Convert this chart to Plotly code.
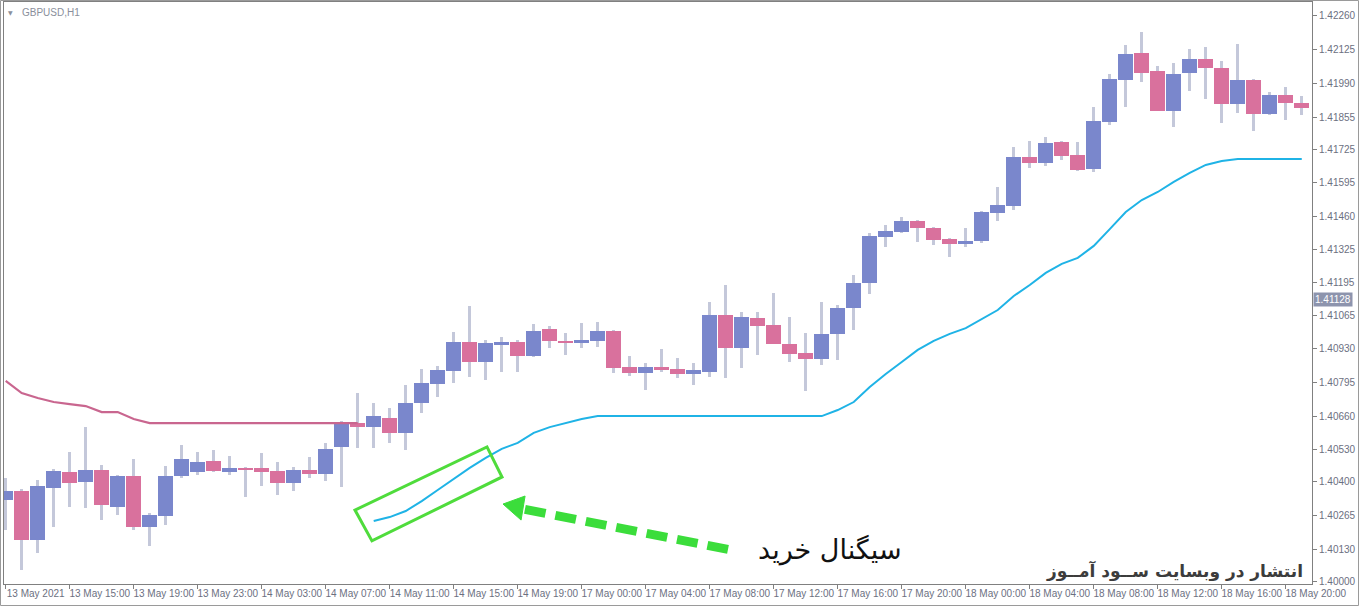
import plotly.graph_objects as go

# ---- data (GBPUSD H1) ----
time_labels = ["13 May 2021", "13 May 15:00", "13 May 19:00", "13 May 23:00", "14 May 03:00",
               "14 May 07:00", "14 May 11:00", "14 May 15:00", "14 May 19:00", "17 May 00:00",
               "17 May 04:00", "17 May 08:00", "17 May 12:00", "17 May 16:00", "17 May 20:00",
               "18 May 00:00", "18 May 04:00", "18 May 08:00", "18 May 12:00", "18 May 16:00",
               "18 May 20:00"]

open_ = [1.40327, 1.40363, 1.40168, 1.40375, 1.40439, 1.40399, 1.40447, 1.40299, 1.40423, 1.40219,
         1.40263, 1.40423, 1.40439, 1.40483, 1.40439, 1.40455, 1.40455, 1.40443, 1.40395, 1.40447,
         1.40431, 1.40539, 1.40634, 1.40618, 1.40654, 1.40595, 1.40714, 1.40790, 1.40842, 1.40958,
         1.40878, 1.40946, 1.40958, 1.40902, 1.41009, 1.40962, 1.40954, 1.40962, 1.41001, 1.40858,
         1.40834, 1.40858, 1.40850, 1.40830, 1.40838, 1.41065, 1.40934, 1.41053, 1.41025, 1.40950,
         1.40914, 1.40890, 1.40990, 1.41093, 1.41193, 1.41377, 1.41396, 1.41440, 1.41412, 1.41369,
         1.41349, 1.41361, 1.41472, 1.41500, 1.41696, 1.41672, 1.41756, 1.41704, 1.41648, 1.41835,
         1.42003, 1.42111, 1.42039, 1.41879, 1.42031, 1.42087, 1.42051, 1.41907, 1.42003, 1.41867,
         1.41943, 1.41911]

high = [1.40415, 1.40371, 1.40407, 1.40451, 1.40519, 1.40618, 1.40467, 1.40427, 1.40491, 1.40275,
        1.40463, 1.40547, 1.40519, 1.40527, 1.40503, 1.40459, 1.40515, 1.40479, 1.40459, 1.40499,
        1.40555, 1.40642, 1.40754, 1.40714, 1.40694, 1.40786, 1.40850, 1.40862, 1.40998, 1.41101,
        1.40966, 1.40978, 1.40966, 1.41029, 1.41021, 1.40994, 1.41033, 1.41037, 1.41005, 1.40902,
        1.40874, 1.40930, 1.40894, 1.40874, 1.41117, 1.41185, 1.41077, 1.41077, 1.41153, 1.41057,
        1.40994, 1.41117, 1.41105, 1.41225, 1.41393, 1.41424, 1.41456, 1.41444, 1.41416, 1.41373,
        1.41412, 1.41480, 1.41576, 1.41736, 1.41760, 1.41776, 1.41760, 1.41756, 1.41895, 1.42027,
        1.42143, 1.42194, 1.42059, 1.42071, 1.42127, 1.42135, 1.42079, 1.42147, 1.42007, 1.41955,
        1.41975, 1.41939]

low = [1.40207, 1.40048, 1.40116, 1.40219, 1.40299, 1.40295, 1.40247, 1.40267, 1.40207, 1.40144,
       1.40227, 1.40415, 1.40427, 1.40439, 1.40427, 1.40339, 1.40383, 1.40347, 1.40363, 1.40415,
       1.40403, 1.40379, 1.40535, 1.40535, 1.40555, 1.40527, 1.40674, 1.40738, 1.40794, 1.40818,
       1.40806, 1.40838, 1.40838, 1.40898, 1.40934, 1.40906, 1.40934, 1.40938, 1.40834, 1.40822,
       1.40766, 1.40838, 1.40814, 1.40786, 1.40818, 1.40814, 1.40854, 1.40906, 1.40950, 1.40878,
       1.40762, 1.40866, 1.40886, 1.41005, 1.41149, 1.41337, 1.41393, 1.41357, 1.41345, 1.41297,
       1.41337, 1.41353, 1.41440, 1.41484, 1.41652, 1.41660, 1.41684, 1.41640, 1.41636, 1.41823,
       1.41895, 1.41995, 1.41879, 1.41815, 1.41959, 1.41927, 1.41831, 1.41871, 1.41799, 1.41863,
       1.41843, 1.41863]

close = [1.40363, 1.40168, 1.40383, 1.40443, 1.40395, 1.40447, 1.40307, 1.40423, 1.40219, 1.40267,
         1.40423, 1.40491, 1.40479, 1.40443, 1.40455, 1.40447, 1.40439, 1.40395, 1.40447, 1.40431,
         1.40531, 1.40630, 1.40618, 1.40662, 1.40595, 1.40714, 1.40794, 1.40846, 1.40958, 1.40878,
         1.40954, 1.40958, 1.40902, 1.41001, 1.40962, 1.40954, 1.40966, 1.41001, 1.40854, 1.40834,
         1.40858, 1.40846, 1.40830, 1.40846, 1.41065, 1.40934, 1.41057, 1.41021, 1.40950, 1.40910,
         1.40890, 1.40990, 1.41093, 1.41193, 1.41381, 1.41400, 1.41440, 1.41412, 1.41365, 1.41349,
         1.41361, 1.41476, 1.41504, 1.41696, 1.41672, 1.41752, 1.41700, 1.41644, 1.41839, 1.42007,
         1.42107, 1.42031, 1.41879, 1.42027, 1.42087, 1.42051, 1.41907, 1.42003, 1.41867, 1.41943,
         1.41911, 1.41891]

# trailing indicator lines (sell line bars 0-22, buy line bars 23-81)
sell_start = 0
sell_line = [1.40802, 1.40754, 1.40734, 1.40718, 1.40710, 1.40702, 1.40678, 1.40678, 1.40650, 1.40634,
             1.40634, 1.40634, 1.40634, 1.40634, 1.40634, 1.40634, 1.40634, 1.40634, 1.40634, 1.40634,
             1.40634, 1.40634, 1.40634]
buy_start = 23
buy_line = [1.40243, 1.40259, 1.40283, 1.40323, 1.40367, 1.40411, 1.40455, 1.40495, 1.40531, 1.40555,
            1.40595, 1.40618, 1.40634, 1.40650, 1.40662,
            1.40662, 1.40662, 1.40662, 1.40662, 1.40662, 1.40662, 1.40662, 1.40662, 1.40662, 1.40662,
            1.40662, 1.40662, 1.40662, 1.40662,
            1.40686, 1.40718, 1.40778, 1.40830, 1.40878, 1.40926, 1.40962, 1.40990, 1.41013, 1.41049,
            1.41085, 1.41141, 1.41185, 1.41233, 1.41269, 1.41293, 1.41341, 1.41408, 1.41476, 1.41524,
            1.41556, 1.41596, 1.41632, 1.41664, 1.41680,
            1.41688, 1.41688, 1.41688, 1.41688, 1.41688]

price_ticks = [1.42260, 1.42125, 1.41990, 1.41855, 1.41725, 1.41595, 1.41460, 1.41325, 1.41195,
               1.41065, 1.40930, 1.40795, 1.40660, 1.40530, 1.40400, 1.40265, 1.40130, 1.40000]
current_price = 1.41128

# ---- styling ----
BLUE = "#7a87cc"
PINK = "#d9719d"
WICK = "#c4c8da"
AXIS = "#808080"
TXT = "#6c7081"

n = len(open_)
xs = list(range(n))
body_base = [min(o, c) for o, c in zip(open_, close)]
body_h = [max(abs(c - o), 0.00003) for o, c in zip(open_, close)]
body_col = [BLUE if c >= o else PINK for o, c in zip(open_, close)]

fig = go.Figure()

# wicks
fig.add_trace(go.Bar(x=xs, base=low, y=[h - l for h, l in zip(high, low)], width=0.19,
                     marker=dict(color=WICK, line=dict(width=0)), hoverinfo="skip", showlegend=False))
# bodies
fig.add_trace(go.Bar(x=xs, base=body_base, y=body_h, width=0.92,
                     marker=dict(color=body_col, line=dict(width=0)), hoverinfo="skip", showlegend=False))

# indicator lines
fig.add_trace(go.Scatter(x=list(range(sell_start, sell_start + len(sell_line))), y=sell_line,
                         mode="lines", line=dict(color="#c9668f", width=2.2), showlegend=False,
                         hoverinfo="skip"))
fig.add_trace(go.Scatter(x=list(range(buy_start, buy_start + len(buy_line))), y=buy_line,
                         mode="lines", line=dict(color="#1fb3e6", width=2), showlegend=False,
                         hoverinfo="skip"))

GREEN = "#4fdc3c"
ARROW = "#3bdd3b"
shapes = [
    # highlight box around the buy signal
    dict(type="path", xref="x", yref="y",
         path="M 21.83,1.40287 L 30.08,1.40539 L 31.02,1.40419 L 22.89,1.40164 Z",
         line=dict(color=GREEN, width=3)),
    # dashed arrow shaft
    dict(type="line", xref="x", yref="y", x0=32.45, y0=1.40290, x1=45.6, y1=1.40124,
         line=dict(color=ARROW, width=9, dash="21px,10px")),
    # arrow head
    dict(type="path", xref="x", yref="y",
         path="M 31.08,1.40311 L 32.46,1.40343 L 32.21,1.40247 Z",
         fillcolor=ARROW, line=dict(color=ARROW, width=1)),
    # outer frame of the screenshot
    dict(type="rect", xref="paper", yref="paper", x0=-3.5 / 1308, x1=1354.5 / 1308,
         y0=(584 - 605.5) / 582, y1=(584 - 0.5) / 582, line=dict(color="#9a9a9a", width=1)),
]

annotations = [
    dict(xref="paper", yref="paper", x=(20 - 4) / 1308, y=(584 - 12) / 582, xanchor="left",
         yanchor="middle", text="GBPUSD,H1", showarrow=False,
         font=dict(family="Liberation Sans", size=10, color="#8a8f9b")),
    dict(xref="paper", yref="paper", x=(10 - 4) / 1308, y=(584 - 12) / 582, xanchor="center",
         yanchor="middle", text="▼", showarrow=False,
         font=dict(family="DejaVu Sans", size=6, color="#8a8f9b")),
    dict(xref="paper", yref="y", x=1, y=current_price, xanchor="left", yanchor="middle", xshift=1,
         text="1.41128", showarrow=False, bgcolor="#8d94ad", borderpad=1,
         font=dict(family="Liberation Sans", size=10, color="white")),
    dict(xref="x", yref="y", x=51.5, y=1.40128, text="سیگنال خرید", showarrow=False,
         xanchor="center", yanchor="middle",
         font=dict(family="DejaVu Sans", size=27, color="#111111")),
    dict(xref="paper", yref="paper", x=(1305 - 4) / 1308, y=(584 - 571) / 582, xanchor="right",
         yanchor="middle", text="انتشار در وبسایت ســود آمــوز", showarrow=False,
         font=dict(family="DejaVu Sans", size=17, color="#3c3c3c", weight="bold")),
]

fig.update_layout(
    width=1360, height=606,
    margin=dict(l=4, r=48, t=2, b=22),
    paper_bgcolor="white", plot_bgcolor="white",
    barmode="overlay", bargap=0,
    hovermode=False,
    shapes=shapes, annotations=annotations,
    xaxis=dict(range=[-0.106, 81.64], tickvals=[i * 4 for i in range(len(time_labels))],
               ticktext=time_labels, showgrid=False, zeroline=False, showline=True, mirror=True,
               linecolor=AXIS, linewidth=1, ticks="outside", ticklen=4, tickcolor=AXIS,
               ticklabelshift=30, ticklabelstandoff=-4,
               tickfont=dict(family="Liberation Sans", size=10, color=TXT)),
    yaxis=dict(range=[1.39992, 1.42314], side="right", tickvals=price_ticks,
               ticktext=[f"{v:.5f}" for v in price_ticks], showgrid=False, zeroline=False,
               showline=True, mirror=True, linecolor=AXIS, linewidth=1, ticks="outside",
               ticklen=4, tickcolor=AXIS,
               tickfont=dict(family="Liberation Sans", size=10, color=TXT)),
)

fig.write_html("out.html", config={"displayModeBar": False},
               post_script="document.body.style.margin='0px';document.body.style.overflow='hidden';")
